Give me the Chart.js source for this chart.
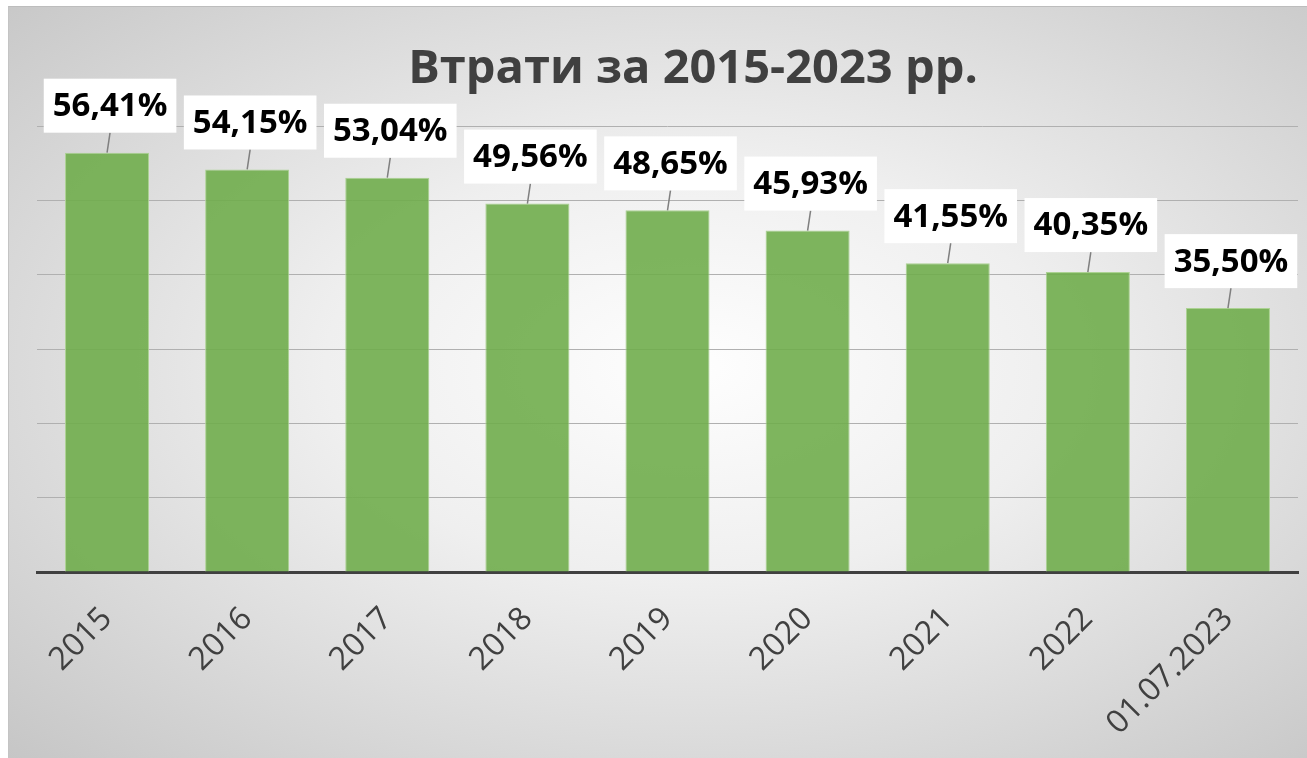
<!DOCTYPE html>
<html>
<head>
<meta charset="utf-8">
<script src="https://cdn.jsdelivr.net/npm/chart.js@4.4.0/dist/chart.umd.min.js"></script>
<style>
body { margin: 0; background: #fff; overflow: hidden; width: 1307px; height: 758px; position: relative; }
#wrap {
	position: absolute; left: 8px; top: 6px; width: 1369px; height: 752px;
	box-sizing: border-box;
	border-top: 1px solid #bdbdbd; border-left: 1px solid #c4c4c4;
	background: radial-gradient(ellipse farthest-corner at 50% 48%, #fefefe 0%, #efefef 38%, #c6c6c6 100%);
}
</style>
</head>
<body>
<div id="wrap"><canvas id="myChart"></canvas></div>
<script>

// data
const categories = ["2015", "2016", "2017", "2018", "2019", "2020", "2021", "2022", "01.07.2023"];
const losses = [56.41, 54.15, 53.04, 49.56, 48.65, 45.93, 41.55, 40.35, 35.50];
const titleText = "Втрати за 2015-2023 рр.";


// white boxes with the values + little leader lines
const valueBoxes = {
	id: 'valueBoxes',
	afterDatasetsDraw(chart) {
		const ctx = chart.ctx;
		const meta = chart.getDatasetMeta(0);
		ctx.save();
		ctx.font = 'bold 33px "Open Sans"';
		meta.data.forEach(function(bar, i) {
			const txt = losses[i].toFixed(2).replace('.', ',') + '%';
			const w = ctx.measureText(txt).width + 18;
			const h = 54;
			const cx = bar.x + 3;
			const bottom = bar.y - 20;

			ctx.strokeStyle = '#7f7f7f';
			ctx.lineWidth = 1.5;
			ctx.beginPath();
			ctx.moveTo(cx, bottom);
			ctx.lineTo(bar.x, bar.y);
			ctx.stroke();

			ctx.fillStyle = '#ffffff';
			ctx.fillRect(cx - w / 2, bottom - h, w, h);
			ctx.fillStyle = '#000000';
			ctx.textAlign = 'center';
			ctx.textBaseline = 'middle';
			ctx.fillText(txt, cx, bottom - h / 2 + 1);
		});
		ctx.restore();
	}
};


new Chart("myChart", {
	type: "bar",
	data: {
		labels: categories,
		datasets: [{
			label: 'Втрати',
			data: losses,
			backgroundColor: "rgba(112,173,76,0.9)",
			borderColor: "#acd293",
			borderWidth: 1,
			barPercentage: 0.6,
			categoryPercentage: 1.0
		}]
	},
	options: {
		responsive: true,
		maintainAspectRatio: false,
		animation: false,
		layout: {
			padding: { top: 34, left: 28, right: 28, bottom: 0 }
		},
		scales: {
			x: {
				grid: { display: false, drawTicks: false },
				border: { display: true, color: '#404040', width: 3 },
				ticks: {
					color: '#404040',
					font: { family: 'Open Sans', size: 32 },
					minRotation: 45,
					maxRotation: 45,
					padding: 28
				},
				afterFit: function(scale) { scale.height = 186; }
			},
			y: {
				position: 'right',
				min: 0,
				max: 60,
				ticks: { display: false, stepSize: 10 },
				grid: { color: '#b0b0b0', lineWidth: 1, drawTicks: false },
				border: { display: false },
				// empty strip on the right, the plot stops before the chart edge
				afterFit: function(scale) { scale.width = 51; }
			}
		},
		plugins: {
			legend: { display: false },
			tooltip: { enabled: false },
			title: {
				display: true,
				text: titleText,
				color: '#404040',
				font: { family: 'Open Sans', size: 47, weight: 'bold', lineHeight: 1.2 },
				padding: { top: 0, bottom: 28.6 }
			}
		}
	},
	plugins: [valueBoxes]
});

</script>
</body>
</html>
